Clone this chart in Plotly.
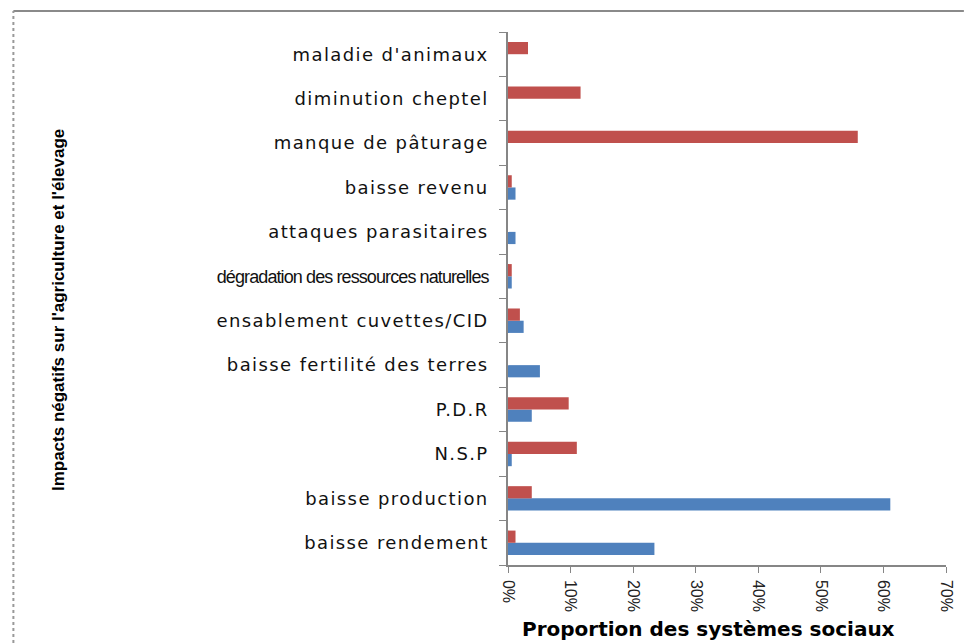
import plotly.graph_objects as go

# categories listed bottom to top
categories = [
    "baisse rendement",
    "baisse production",
    "N.S.P",
    "P.D.R",
    "baisse fertilité des terres",
    "ensablement cuvettes/CID",
    "dégradation des ressources naturelles",
    "attaques parasitaires",
    "baisse revenu",
    "manque de pâturage",
    "diminution cheptel",
    "maladie d'animaux",
]

agriculture = [0.234, 0.611, 0.006, 0.038, 0.051, 0.025, 0.006, 0.012, 0.012, 0, 0, 0]
elevage = [0.012, 0.038, 0.110, 0.097, 0, 0.019, 0.006, 0, 0.006, 0.559, 0.116, 0.032]

x_ticks = [0, 0.1, 0.2, 0.3, 0.4, 0.5, 0.6, 0.7]
x_tick_labels = ["0%", "10%", "20%", "30%", "40%", "50%", "60%", "70%"]

W, H = 967, 643
L, R, T, B = 508, 18, 32, 78
plot_w = W - L - R
plot_h = H - T - B


def style_label(text):
    # the long label was squeezed in the original picture, the others stretched
    if len(text) > 30:
        return f'<span style="font-family:Liberation Sans, Arial; letter-spacing:-0.9px; font-size:18px">{text}</span>'
    return f'<span style="letter-spacing:1.4px">{text}</span>'


fig = go.Figure()

fig.add_trace(
    go.Bar(
        y=categories,
        x=agriculture,
        orientation="h",
        name="Agriculture",
        marker=dict(color="#4F81BD", line=dict(width=0))
    )
)

fig.add_trace(
    go.Bar(
        y=categories,
        x=elevage,
        orientation="h",
        name="Elevage",
        marker=dict(color="#C0504D", line=dict(width=0))
    )
)

axis_color = "#868686"

fig.update_layout(
    width=W,
    height=H,
    barmode="group",
    bargap=0.45,
    bargroupgap=0,
    showlegend=False,
    plot_bgcolor="white",
    paper_bgcolor="white",
    margin=dict(l=L, r=R, t=T, b=B),
    font=dict(family="Arial, Liberation Sans", color="#000000"),
    xaxis=dict(
        range=[0, 0.7],
        tickvals=x_ticks,
        ticktext=x_tick_labels,
        tickangle=90,
        tickfont=dict(size=16, color="#222222"),
        showgrid=False,
        zeroline=False,
        showline=True,
        linecolor=axis_color,
        linewidth=1.5,
        ticks="outside",
        ticklen=6,
        tickcolor=axis_color,
        ticklabelstandoff=4,
    ),
    yaxis=dict(
        categoryorder="array",
        categoryarray=categories,
        tickvals=categories,
        ticktext=[style_label(c) for c in categories],
        tickfont=dict(family="DejaVu Sans", size=18, color="#111111"),
        showgrid=False,
        zeroline=False,
        showline=True,
        linecolor=axis_color,
        linewidth=1.5,
        ticks="outside",
        ticklen=7,
        tickcolor=axis_color,
        ticklabelstandoff=14,
        tickson="boundaries",
    ),
    annotations=[
        dict(
            text="<b>Impacts négatifs sur l'agriculture et l'élevage</b>",
            xref="paper",
            yref="paper",
            x=(55 - L) / plot_w,
            y=(H - B - 310) / plot_h,
            xanchor="center",
            yanchor="middle",
            textangle=-90,
            showarrow=False,
            font=dict(family="Liberation Sans, Arial", size=17, color="#000000"),
        ),
        dict(
            text="<b>Proportion des systèmes sociaux</b>",
            xref="paper",
            yref="paper",
            x=(710 - L) / plot_w,
            y=-(629 - (H - B)) / plot_h,
            xanchor="center",
            yanchor="middle",
            showarrow=False,
            font=dict(family="DejaVu Sans", size=20, color="#000000"),
        ),
    ],
    shapes=[
        dict(
            type="line",
            xref="paper",
            yref="paper",
            x0=(10 - L) / plot_w,
            x1=(967 - L) / plot_w,
            y0=1 + (T - 11) / plot_h,
            y1=1 + (T - 11) / plot_h,
            line=dict(color="#8a8a8a", width=2),
        ),
        dict(
            type="line",
            xref="paper",
            yref="paper",
            x0=(10 - L) / plot_w,
            x1=(10 - L) / plot_w,
            y0=-(643 - (H - B)) / plot_h,
            y1=1 + (T - 11) / plot_h,
            line=dict(color="#999999", width=2, dash="dot"),
        ),
    ],
)

fig.write_html(
    "out.html",
    config={"displayModeBar": False},
    post_script="document.body.style.margin='0';"
)
